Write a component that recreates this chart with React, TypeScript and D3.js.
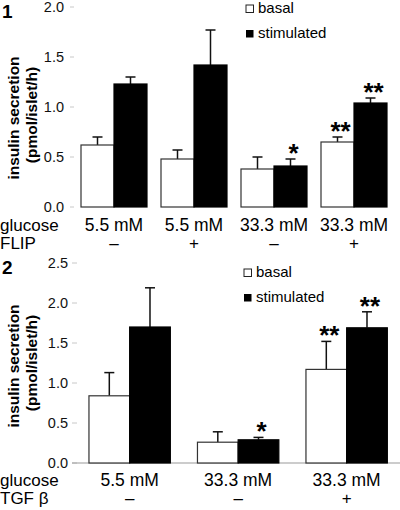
import React from "react";
import * as d3 from "d3";

// Panel 1 data
const groups1 = ["5.5 mM", "5.5 mM ", "33.3 mM", "33.3 mM "];
const flip = ["–", "+", "–", "+"];
const basal1 = [0.62, 0.48, 0.38, 0.65];
const basal1Err = [0.70, 0.57, 0.50, 0.70];
const stim1 = [1.23, 1.42, 0.41, 1.04];
const stim1Err = [1.30, 1.77, 0.48, 1.09];
const basal1Sig = ["", "", "", "**"];
const stim1Sig = ["", "", "*", "**"];
const ticks1 = [0, 0.5, 1.0, 1.5, 2.0];

// Panel 2 data
const groups2 = ["5.5 mM", "33.3 mM", "33.3 mM "];
const tgf = ["–", "–", "+"];
const basal2 = [0.84, 0.26, 1.17];
const basal2Err = [1.13, 0.39, 1.52];
const stim2 = [1.70, 0.29, 1.69];
const stim2Err = [2.19, 0.32, 1.89];
const basal2Sig = ["", "", "**"];
const stim2Sig = ["", "*", "**"];
const ticks2 = [0, 0.5, 1.0, 1.5, 2.0, 2.5];

const series = ["basal", "stimulated"];
const FONT = "Liberation Sans, Arial, Helvetica, sans-serif";

type PanelProps = {
  label: string;
  groups: string[];
  groupLabels: string[];
  factorName: string;
  factor: string[];
  basal: number[];
  basalErr: number[];
  stim: number[];
  stimErr: number[];
  basalSig: string[];
  stimSig: string[];
  ticks: number[];
  yMax: number;
  yRange: [number, number];
  xRange: [number, number];
  padInner: number;
  tickX: [number, number];
  tickLabelX: number;
  baseline: boolean;
  legendX: number;
  legendY: number;
  titleY: number;
  labelY: number;
};

function Panel(p: PanelProps) {
  const y = d3.scaleLinear().domain([0, p.yMax]).range(p.yRange);
  const x = d3
    .scaleBand<string>()
    .domain(p.groups)
    .range(p.xRange)
    .paddingInner(p.padInner)
    .paddingOuter(p.padInner / 2);
  const sub = d3.scaleBand<string>().domain(series).range([0, x.bandwidth()]);
  const bw = sub.bandwidth();
  const y0 = y(0);
  const bars: React.ReactNode[] = [];
  p.groups.forEach((g, i) => {
    const gx = x(g)!;
    const items = [
      { s: "basal", v: p.basal[i], e: p.basalErr[i], sig: p.basalSig[i] },
      { s: "stimulated", v: p.stim[i], e: p.stimErr[i], sig: p.stimSig[i] },
    ];
    items.forEach((it) => {
      const bx = gx + sub(it.s)!;
      const cx = bx + bw / 2;
      bars.push(
        <g key={g + it.s}>
          <line x1={cx} x2={cx} y1={y(it.v)} y2={y(it.e)} stroke="#111" strokeWidth={1.5} />
          <line x1={cx - 5} x2={cx + 5} y1={y(it.e)} y2={y(it.e)} stroke="#111" strokeWidth={1.5} />
          <rect
            x={bx}
            y={y(it.v)}
            width={bw}
            height={y0 - y(it.v)}
            fill={it.s === "basal" ? "#fff" : "#000"}
            stroke={it.s === "basal" ? "#333" : "#000"}
            strokeWidth={1.2}
          />
          {it.sig && (
            <text
              x={cx + 3}
              y={y(it.e) + 3}
              textAnchor="middle"
              fontSize={26}
              fontWeight="bold"
              fontFamily={FONT}
            >
              {it.sig}
            </text>
          )}
        </g>
      );
    });
  });

  return (
    <g>
      <text x={2} y={p.yRange[1] + 11} fontSize={19} fontWeight="bold" fontFamily={FONT}>
        {p.label}
      </text>
      {p.ticks.map((t) => (
        <g key={t}>
          <line x1={p.tickX[0]} x2={p.tickX[1]} y1={y(t)} y2={y(t)} stroke="#c8c8c8" strokeWidth={1} />
          <text
            x={p.tickLabelX}
            y={y(t) + 5}
            textAnchor="end"
            fontSize={14.5}
            fontFamily={FONT}
            fill="#111"
          >
            {d3.format(".1f")(t)}
          </text>
        </g>
      ))}
      {p.baseline && (
        <line x1={p.tickX[0]} x2={400} y1={y0} y2={y0} stroke="#999" strokeWidth={1.2} />
      )}
      <text
        transform={`translate(19,${p.titleY}) rotate(-90)`}
        textAnchor="middle"
        fontSize={15.5}
        fontWeight="bold"
        fontFamily={FONT}
      >
        insulin secretion
      </text>
      <text
        transform={`translate(37,${p.titleY - 3}) rotate(-90)`}
        textAnchor="middle"
        fontSize={15.5}
        fontWeight="bold"
        fontFamily={FONT}
      >
        (pmol/islet/h)
      </text>
      {bars}
      {/* legend */}
      <rect x={p.legendX} y={p.legendY - 8} width={7.5} height={7.5} fill="#fff" stroke="#222" strokeWidth={1} />
      <text x={p.legendX + 12} y={p.legendY} fontSize={15} fontFamily={FONT}>
        basal
      </text>
      <rect x={p.legendX} y={p.legendY + 17} width={7.5} height={7.5} fill="#000" />
      <text x={p.legendX + 12} y={p.legendY + 25} fontSize={15} fontFamily={FONT}>
        stimulated
      </text>
      {/* category labels */}
      <text x={0} y={p.labelY} fontSize={17} fontFamily={FONT}>
        glucose
      </text>
      <text x={0} y={p.labelY + 18} fontSize={17} fontFamily={FONT}>
        {p.factorName}
      </text>
      {p.groups.map((g, i) => (
        <g key={"l" + g}>
          <text x={x(g)! + x.bandwidth() / 2} y={p.labelY} textAnchor="middle" fontSize={17.5} fontFamily={FONT}>
            {p.groupLabels[i]}
          </text>
          <text x={x(g)! + x.bandwidth() / 2} y={p.labelY + 18} textAnchor="middle" fontSize={17} fontFamily={FONT}>
            {p.factor[i]}
          </text>
        </g>
      ))}
    </g>
  );
}

export default function App() {
  return (
    <svg
      width={400}
      height={510}
      style={{ position: "absolute", left: 0, top: 0, background: "#fff" }}
    >
      <rect width={400} height={510} fill="#fff" />
      <Panel
        label="1"
        groups={groups1}
        groupLabels={groups1.map((g) => g.trim())}
        factorName="FLIP"
        factor={flip}
        basal={basal1}
        basalErr={basal1Err}
        stim={stim1}
        stimErr={stim1Err}
        basalSig={basal1Sig}
        stimSig={stim1Sig}
        ticks={ticks1}
        yMax={2}
        yRange={[207, 7]}
        xRange={[74, 394]}
        padInner={0.175}
        tickX={[70, 74]}
        tickLabelX={64}
        baseline={false}
        legendX={246}
        legendY={13}
        titleY={118}
        labelY={231}
      />
      <Panel
        label="2"
        groups={groups2}
        groupLabels={groups2.map((g) => g.trim())}
        factorName="TGF β"
        factor={tgf}
        basal={basal2}
        basalErr={basal2Err}
        stim={stim2}
        stimErr={stim2Err}
        basalSig={basal2Sig}
        stimSig={stim2Sig}
        ticks={ticks2}
        yMax={2.5}
        yRange={[463, 263]}
        xRange={[75.4, 400.9]}
        padInner={0.25}
        tickX={[72, 77]}
        tickLabelX={68}
        baseline={true}
        legendX={244}
        legendY={277}
        titleY={366}
        labelY={486}
      />
    </svg>
  );
}
